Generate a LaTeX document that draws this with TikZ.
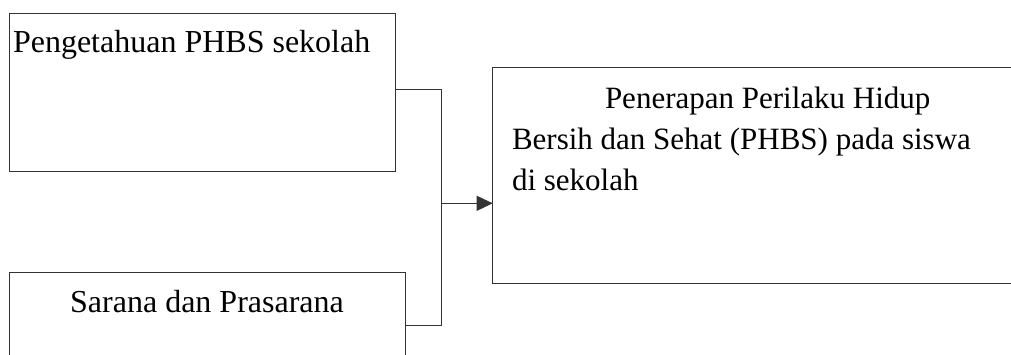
\documentclass[tikz,border=0pt]{standalone}
\usepackage{fontspec}
\setmainfont{Liberation Serif}
\newfontfamily\tnrfont{Liberation Serif}
\usetikzlibrary{arrows.meta}
\begin{document}
\begin{tikzpicture}[x=0.5pt,y=-0.5pt,
  boxstyle/.style={draw=black!80, line width=0.5pt, rectangle, inner sep=0pt, outer sep=0pt},
  txt/.style={inner sep=0pt, outer sep=0pt, font=\tnrfont\fontsize{15.5pt}{19pt}\selectfont},
  bigtxt/.style={txt, font=\tnrfont\fontsize{16pt}{19pt}\selectfont},
  conn/.style={draw=black!80, line width=0.5pt},
  arr/.style={conn, -{Triangle[length=8pt,width=7.5pt]}}]
\useasboundingbox (0,0) rectangle (1011,354);
\clip (0,0) rectangle (1011,354);
% boxes
\node[boxstyle, minimum width=193pt, minimum height=79pt] (b1) at (202,92) {};
\node[boxstyle, minimum width=198pt, minimum height=60pt] (b2) at (207,332.7) {};
\node[boxstyle, minimum width=280pt, minimum height=108pt] (rb) at (772.7,175.3) {};
% texts
\node[bigtxt, anchor=base west] (t1) at (13,52) {Pengetahuan PHBS sekolah};
\node[bigtxt, anchor=base] (t2) at (207,312) {Sarana dan Prasarana};
\node[txt, anchor=base west] (t3a) at (605,108) {Penerapan Perilaku Hidup};
\node[txt, anchor=base west] (t3b) at (512,149.5) {Bersih dan Sehat (PHBS) pada siswa};
\node[txt, anchor=base west] (t3c) at (512,190) {di sekolah};
% connectors
\coordinate (j1) at (441,89.3);
\coordinate (j2) at (441,325);
\coordinate (jm) at (441,203.3);
\draw[conn] (b1.east |- j1) -- (j1) -- (j2) -- (b2.east |- j2);
\draw[arr] (jm) -- (rb.west |- jm);
\end{tikzpicture}
\end{document}
